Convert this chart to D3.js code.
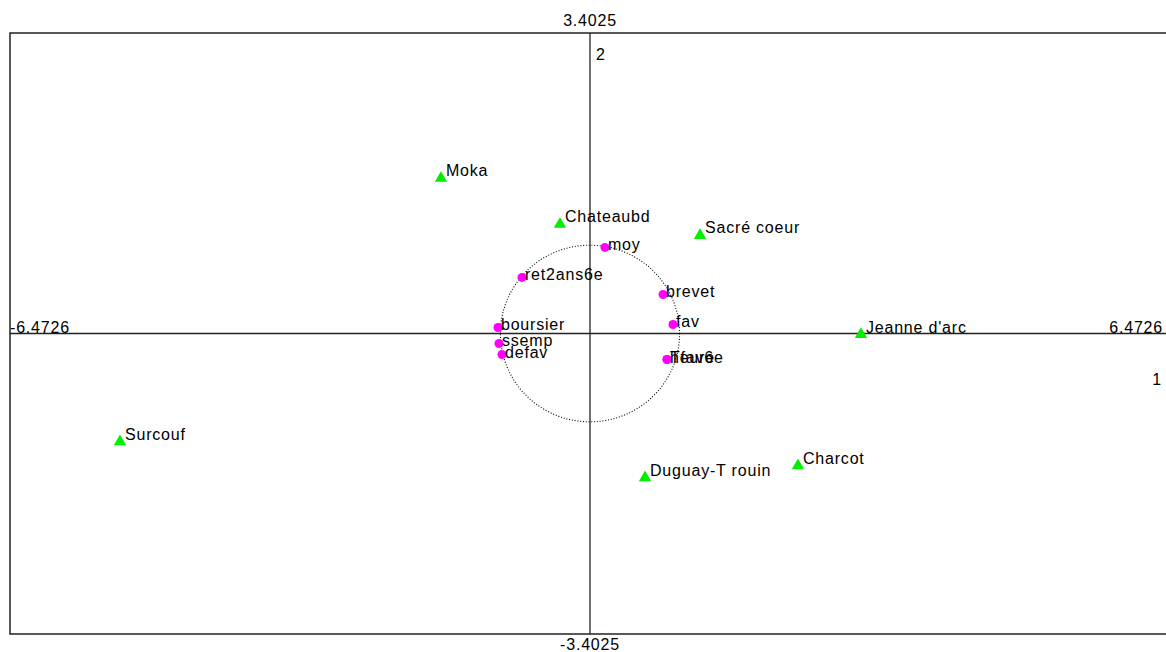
<!DOCTYPE html>
<html>
<head>
<meta charset="utf-8">
<script src="https://cdn.jsdelivr.net/npm/d3@7"></script>
<style>
  html, body { margin: 0; padding: 0; background: #fff; overflow: hidden; }
  svg text { font-family: "Liberation Sans", Arial, sans-serif; font-size: 16px; letter-spacing: 0.8px; fill: #000; }
</style>
</head>
<body>
<svg id="chart" width="1166" height="652"></svg>
<script>
// Axis extents and labels
const xExtent = [-6.4726, 6.4726];
const yExtent = [-3.4025, 3.4025];
const xTickLabels = ["-6.4726", "6.4726"];
const yTickLabels = ["-3.4025", "3.4025"];
const axisNames = ["1", "2"];

// Individuals (rows) – green triangles
const rowNames = ["Moka", "Chateaubd", "Sacré coeur", "Jeanne d'arc", "Surcouf", "Duguay-T rouin", "Charcot"];
const rowX = [-1.663, -0.335, 1.228, 3.024, -5.245, 0.614, 2.321];
const rowY = [1.769, 1.248, 1.123, 0.0, -1.214, -1.622, -1.486];

// Variables (columns) – magenta points on the correlation circle
const colNames = ["moy", "ret2ans6e", "brevet", "fav", "boursier", "ssemp", "defav", "Tfav6e", "heure"];
const colX = [0.167, -0.759, 0.815, 0.926, -1.027, -1.016, -0.982, 0.859, 0.859];
const colY = [0.975, 0.635, 0.442, 0.102, 0.068, -0.113, -0.238, -0.295, -0.295];

const svg = d3.select("#chart");
const pL = 10, pR = 1170, pT = 33, pB = 634;

const x = d3.scaleLinear().domain(xExtent).range([pL, pR]);
const y = d3.scaleLinear().domain(yExtent).range([pB, pT]);

// Frame
svg.append("rect")
  .attr("x", pL).attr("y", pT)
  .attr("width", pR - pL).attr("height", pB - pT)
  .attr("fill", "none").attr("stroke", "#222").attr("stroke-width", 1.5);

// Axes through origin
svg.append("line")
  .attr("x1", pL).attr("x2", pR)
  .attr("y1", y(0)).attr("y2", y(0))
  .attr("stroke", "#222").attr("stroke-width", 1.3);
svg.append("line")
  .attr("x1", x(0)).attr("x2", x(0))
  .attr("y1", pT).attr("y2", pB)
  .attr("stroke", "#222").attr("stroke-width", 1.3);

// Unit correlation circle
svg.append("ellipse")
  .attr("cx", x(0)).attr("cy", y(0))
  .attr("rx", x(1) - x(0)).attr("ry", y(0) - y(1))
  .attr("fill", "none").attr("stroke", "#000")
  .attr("stroke-width", 1.1).attr("stroke-dasharray", "1,1.8");

// Extent labels
svg.append("text").attr("x", x(0)).attr("y", pT - 7)
  .attr("text-anchor", "middle").text(yTickLabels[1]);
svg.append("text").attr("x", x(0)).attr("y", pB + 16)
  .attr("text-anchor", "middle").text(yTickLabels[0]);
svg.append("text").attr("x", pL).attr("y", y(0) - 1)
  .attr("text-anchor", "start").text(xTickLabels[0]);
svg.append("text").attr("x", 1163).attr("y", y(0) - 1)
  .attr("text-anchor", "end").text(xTickLabels[1]);

// Axis names
svg.append("text").attr("x", x(0) + 6).attr("y", pT + 27).text(axisNames[1]);
svg.append("text").attr("x", 1162).attr("y", y(0) + 51)
  .attr("text-anchor", "end").text(axisNames[0]);

// Rows
const rows = rowNames.map((n, i) => ({ n, x: rowX[i], y: rowY[i] }));
const tri = d3.symbol().type(d3.symbolTriangle).size(66);
svg.append("g").selectAll("path").data(rows).join("path")
  .attr("d", tri)
  .attr("transform", d => `translate(${x(d.x)},${y(d.y) + 1})`)
  .attr("fill", "#00ee00");
svg.append("g").selectAll("text").data(rows).join("text")
  .attr("x", d => x(d.x) + 5)
  .attr("y", d => y(d.y) - 1)
  .text(d => d.n);

// Columns
const cols = colNames.map((n, i) => ({ n, x: colX[i], y: colY[i] }));
svg.append("g").selectAll("circle").data(cols).join("circle")
  .attr("cx", d => x(d.x)).attr("cy", d => y(d.y))
  .attr("r", 4.5)
  .attr("fill", "#ff00ff");
svg.append("g").selectAll("text").data(cols).join("text")
  .attr("x", d => x(d.x) + 3)
  .attr("y", d => y(d.y) + 3)
  .text(d => d.n);
</script>
</body>
</html>
